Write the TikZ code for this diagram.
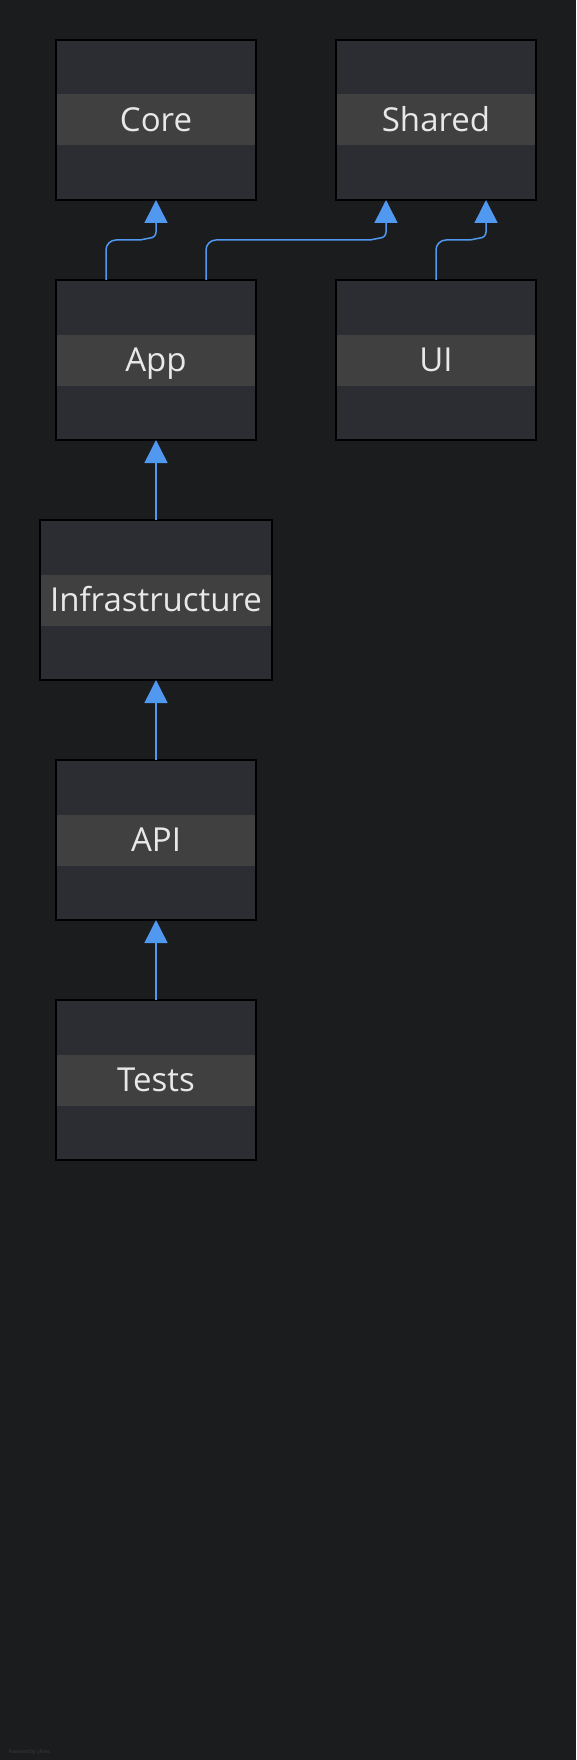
\documentclass[tikz,border=0pt]{standalone}
\usepackage{fontspec}
\setmainfont{Open Sans}
\usetikzlibrary{positioning, arrows.meta}

\definecolor{canvas}{RGB}{27,28,30}
\definecolor{boxfill}{RGB}{44,45,50}
\definecolor{bandfill}{RGB}{64,64,64}
\definecolor{labeltext}{RGB}{232,232,232}
\definecolor{depline}{RGB}{80,152,240}
\definecolor{credit}{RGB}{60,61,64}

\tikzset{
  layer/.style={draw=black, line width=1.5pt, fill=boxfill, text=labeltext,
    minimum width=200pt, minimum height=160pt, inner sep=0pt, outer sep=0pt,
    font=\fontsize{33}{39}\selectfont, text height=24pt, text depth=1pt,
    path picture={\fill[bandfill] ([yshift=-25.5pt]path picture bounding box.west)
      rectangle ([yshift=25.5pt]path picture bounding box.east);}},
  dep/.style={draw=depline, line width=1.5pt, -{Triangle[length=23pt, width=23pt]}},
  node distance=80pt
}

\begin{document}
\begin{tikzpicture}[x=1pt, y=1pt]
  \fill[canvas] (0,0) rectangle (576,-1760);
  \useasboundingbox (0,0) rectangle (576,-1760);

  %Define nodes
  \node[layer] (core) at (156,-120) {Core};
  \node[layer, right=of core] (shared) {Shared};
  \node[layer, below=of core] (app) {App};
  \node[layer, right=of app] (ui) {UI};
  \node[layer, below=of app, minimum width=232pt] (infra) {Infrastructure};
  \node[layer, below=of infra] (api) {API};
  \node[layer, below=of api] (tests) {Tests};
  \node[anchor=west, text=credit, font=\fontsize{5}{6}\selectfont] (credit) at (5,-1752) {Powered by yFiles};

  % Connect the nodes
  \draw[dep] ([xshift=-50pt]app.north) -- ++(0,30) to[out=90, in=180] ++(10,10)
    -- ++(24,0) -- ++(10,2) to[out=0, in=-90] ++(6,6) -- (core.south);
  \draw[dep] ([xshift=50pt]app.north) -- ++(0,30) to[out=90, in=180] ++(10,10)
    -- ++(154,0) -- ++(10,2) to[out=0, in=-90] ++(6,6) -- ([xshift=-50pt]shared.south);
  \draw[dep] (ui.north) -- ++(0,30) to[out=90, in=180] ++(10,10)
    -- ++(24,0) -- ++(10,2) to[out=0, in=-90] ++(6,6) -- ([xshift=50pt]shared.south);
  \draw[dep] (infra) -- (app);
  \draw[dep] (api) -- (infra);
  \draw[dep] (tests) -- (api);

\end{tikzpicture}
\end{document}
